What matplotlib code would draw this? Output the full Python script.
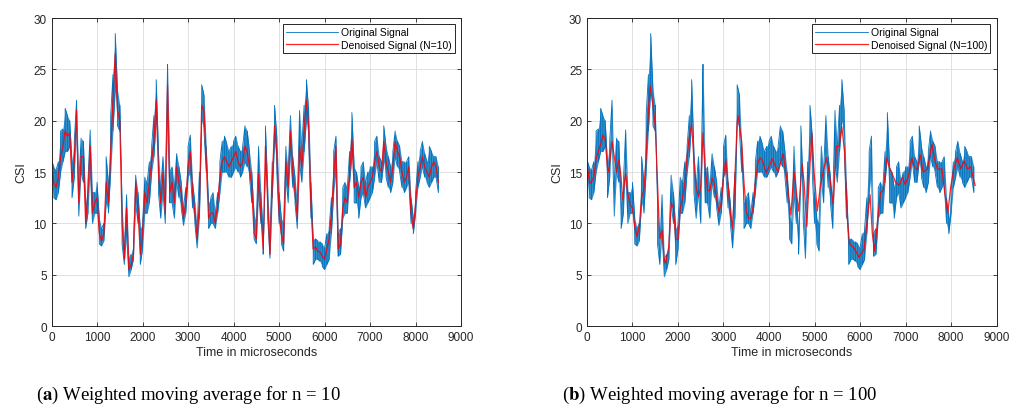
import numpy as np
import matplotlib
matplotlib.use("Agg")
import matplotlib.pyplot as plt

plt.rcParams['font.family'] = ['Liberation Sans', 'DejaVu Sans']
plt.rcParams['mathtext.fontset'] = 'stix'

# time grid of the original signal (microseconds), one value every 50
t_sig = np.arange(0, 8501, 50)

# original signal, lower and upper edge of the noisy band
sig_low = [14.5, 12.5, 12.3, 13.0, 15.0, 16.0, 17.0, 17.0, 17.5, 12.5,
           14.5, 19.5, 10.7, 15.0, 14.0, 9.5, 11.0, 15.5, 10.0, 11.0,
           11.0, 8.0, 7.8, 8.3, 12.0, 11.0, 15.0, 19.0, 23.0, 19.5,
           19.0, 8.0, 6.0, 9.0, 4.8, 5.5, 6.5, 12.0, 10.0, 6.0,
           7.5, 11.0, 11.0, 12.0, 15.0, 16.5, 20.0, 13.0, 10.5, 13.0,
           10.0, 21.0, 12.0, 12.0, 10.5, 14.0, 12.5, 11.5, 9.8, 11.0,
           14.5, 15.0, 11.5, 10.0, 7.6, 10.5, 20.0, 19.0, 15.0, 9.5,
           10.0, 10.0, 9.5, 11.0, 13.0, 15.0, 15.0, 15.0, 14.5, 14.5,
           15.0, 15.5, 15.0, 14.5, 15.0, 16.0, 15.5, 14.5, 12.0, 8.5,
           8.0, 13.0, 10.0, 7.0, 15.5, 10.5, 6.6, 12.5, 18.0, 15.0,
           10.0, 8.0, 7.3, 14.5, 12.0, 17.0, 13.5, 12.0, 9.5, 16.0,
           14.0, 17.0, 20.0, 18.0, 10.5, 6.0, 6.5, 6.5, 6.3, 5.8,
           5.5, 6.0, 6.5, 9.0, 13.0, 15.0, 6.8, 7.0, 10.5, 11.0,
           11.0, 14.0, 16.5, 12.0, 12.0, 10.5, 12.5, 13.0, 11.5, 12.0,
           12.5, 13.0, 14.5, 16.0, 14.0, 14.0, 16.0, 14.5, 13.5, 13.0,
           14.0, 16.5, 15.5, 15.0, 13.5, 13.0, 13.5, 14.0, 10.0, 9.0,
           11.0, 13.5, 14.5, 15.5, 14.5, 14.0, 13.5, 14.0, 14.5, 14.5,
           13.0]
sig_high = [16.2, 15.5, 15.2, 16.0, 19.0, 19.2, 21.2, 20.5, 20.0, 16.0,
            18.0, 22.0, 14.0, 18.3, 18.0, 12.0, 14.0, 19.1, 13.0, 13.0,
            14.0, 10.5, 9.5, 10.0, 16.5, 14.0, 20.5, 24.5, 28.5, 23.0,
            21.5, 12.0, 7.5, 12.8, 6.5, 7.0, 8.0, 14.7, 13.0, 9.5,
            10.0, 14.5, 14.0, 16.0, 17.5, 20.5, 24.0, 17.0, 13.5, 16.5,
            13.0, 25.5, 15.0, 15.5, 13.5, 16.8, 15.5, 14.0, 11.5, 13.5,
            17.5, 18.6, 14.0, 12.0, 9.5, 15.0, 23.5, 22.5, 17.5, 12.0,
            12.5, 13.0, 11.0, 13.0, 16.0, 18.0, 18.5, 17.8, 17.0, 17.5,
            18.0, 18.5, 17.5, 17.0, 17.5, 19.5, 19.0, 17.0, 15.0, 11.0,
            10.0, 17.5, 13.0, 9.0, 19.5, 13.5, 8.5, 16.0, 21.5, 18.5,
            13.0, 10.5, 10.0, 17.5, 15.0, 20.5, 16.5, 14.5, 12.0, 21.0,
            17.5, 21.5, 24.0, 21.0, 14.0, 8.5, 8.5, 8.3, 8.2, 8.0,
            7.6, 9.0, 9.5, 12.5, 17.0, 18.5, 9.0, 9.5, 13.5, 14.0,
            13.5, 17.0, 20.8, 15.5, 15.0, 13.5, 15.5, 16.0, 14.0, 15.0,
            15.5, 15.5, 18.0, 18.5, 16.5, 16.0, 19.5, 17.5, 16.5, 15.5,
            17.0, 19.0, 18.0, 17.5, 16.0, 16.0, 16.0, 16.5, 12.5, 10.5,
            13.0, 16.0, 17.0, 18.0, 16.8, 16.0, 17.5, 17.0, 16.5, 16.5,
            15.5]

# weighted moving average, N=10 (same time grid)
wma10 = [15.8, 14.0, 13.5, 14.5, 16.5, 17.5, 19.0, 18.5, 18.8, 14.0,
         16.0, 21.0, 12.0, 16.5, 16.5, 10.0, 13.0, 17.5, 11.0, 12.0,
         12.5, 9.0, 8.3, 9.0, 14.0, 12.0, 17.0, 22.0, 26.5, 21.0,
         20.0, 10.0, 6.5, 11.5, 5.5, 6.0, 7.0, 14.0, 11.5, 7.0,
         9.0, 13.0, 12.0, 14.0, 16.0, 18.0, 22.0, 15.0, 12.0, 15.0,
         11.0, 23.5, 13.0, 14.0, 12.0, 15.5, 14.0, 13.0, 10.5, 12.0,
         15.5, 17.0, 13.0, 11.0, 8.5, 12.0, 21.5, 21.0, 16.0, 10.5,
         11.0, 11.0, 10.0, 12.0, 14.5, 16.0, 16.5, 16.0, 15.5, 16.0,
         16.5, 17.0, 16.0, 15.5, 16.0, 17.5, 17.0, 15.5, 13.5, 9.0,
         8.5, 14.8, 11.0, 7.5, 17.5, 12.0, 7.0, 14.0, 19.5, 17.0,
         11.0, 9.0, 8.0, 16.0, 13.5, 19.0, 15.0, 13.0, 10.5, 17.5,
         15.5, 19.0, 22.0, 19.5, 12.0, 7.5, 7.7, 7.3, 7.2, 6.8,
         6.5, 7.5, 8.5, 11.0, 14.5, 17.5, 7.5, 8.0, 11.5, 12.5,
         12.0, 15.0, 18.2, 13.5, 14.0, 12.5, 14.0, 14.5, 12.5, 13.5,
         14.0, 14.5, 16.0, 17.0, 15.5, 15.0, 18.0, 16.0, 15.0, 14.0,
         15.5, 18.0, 17.0, 16.5, 15.0, 14.0, 14.5, 15.5, 11.0, 9.5,
         12.0, 14.5, 15.5, 16.5, 15.5, 15.0, 14.5, 15.5, 16.0, 15.5,
         14.0]

# weighted moving average, N=100
t100 = [0, 50, 80, 150, 200, 300, 350, 400, 450, 480, 550, 600, 650, 700, 750,
        780, 850, 900, 950, 1000, 1050, 1100, 1150, 1200, 1250, 1300, 1350,
        1390, 1450, 1500, 1550, 1600, 1650, 1700, 1730, 1800, 1850, 1900,
        1950, 2000, 2050, 2100, 2150, 2200, 2250, 2300, 2350, 2400, 2450,
        2500, 2550, 2600, 2650, 2700, 2750, 2800, 2850, 2900, 2950, 3000,
        3050, 3100, 3150, 3200, 3250, 3300, 3320, 3400, 3450, 3500, 3550,
        3600, 3650, 3700, 3750, 3800, 3850, 3940, 4070, 4200, 4310, 4400,
        4480, 4550, 4650, 4730, 4770, 4830, 4880, 4940, 4990, 5060, 5140,
        5260, 5320, 5410, 5480, 5540, 5600, 5660, 5720, 5770, 5870, 5980,
        6090, 6140, 6220, 6270, 6320, 6380, 6450, 6510, 6590, 6640, 6710,
        6780, 6860, 6930, 6990, 7060, 7140, 7190, 7260, 7320, 7390, 7480,
        7580, 7640, 7700, 7800, 7860, 7930, 7990, 8070, 8140, 8210, 8290,
        8360, 8430, 8530]
wma100 = [15.8, 14.2, 13.9, 14.5, 16.3, 17.7, 18.6, 18.2, 15.5, 15.0, 18.0,
          16.5, 15.0, 16.2, 14.5, 12.3, 14.9, 12.8, 11.8, 11.5, 9.7, 8.7, 9.8,
          12.5, 13.2, 16.5, 21.0, 23.4, 21.5, 19.5, 14.0, 8.5, 9.3, 6.4, 6.1,
          7.8, 12.0, 11.5, 8.5, 8.4, 11.5, 12.5, 13.8, 16.5, 18.5, 19.6, 16.2,
          13.5, 12.6, 13.5, 18.8, 15.3, 13.2, 13.2, 14.4, 13.8, 12.4, 11.1,
          12.0, 14.5, 16.2, 13.8, 11.0, 9.5, 14.5, 19.8, 20.5, 18.0, 14.0,
          11.2, 10.5, 10.5, 11.5, 14.0, 15.8, 16.4, 16.2, 14.9, 16.3, 15.0,
          16.8, 14.0, 10.8, 15.0, 11.2, 15.8, 14.0, 9.7, 14.0, 18.8, 15.0,
          11.2, 14.0, 16.4, 15.0, 11.9, 17.5, 17.5, 19.4, 17.0, 10.5, 8.0,
          7.6, 6.7, 7.5, 9.5, 12.8, 9.0, 7.3, 10.0, 13.0, 13.2, 16.4, 15.5,
          14.8, 14.0, 13.7, 14.5, 13.8, 14.5, 16.4, 15.5, 15.2, 16.7, 15.0,
          15.3, 17.7, 16.2, 15.3, 15.3, 13.0, 11.0, 13.5, 15.5, 16.4, 15.3,
          16.1, 15.3, 15.5, 13.7]

panels = [
    (wma10, t_sig, "Denoised Signal (N=10)", "Weighted moving average for n = 10", "a"),
    (wma100, t100, "Denoised Signal (N=100)", "Weighted moving average for n = 100", "b"),
]

blue = '#0072BD'
ink = '#262626'

# zig-zag between the band edges gives the spiky look of the raw signal
zig_t = np.repeat(t_sig, 2)
zig_v = np.column_stack([sig_low, sig_high]).ravel()
zig_v[2::4], zig_v[3::4] = zig_v[3::4].copy(), zig_v[2::4].copy()

fig = plt.figure(figsize=(10.24, 4.14), dpi=100)
lefts = [0.0503, 0.5732]
cap_x = [0.184, 0.703]

for i, (smooth, ts, lab, cap, letter) in enumerate(panels):
    ax = fig.add_axes([lefts[i], 0.210, 0.400, 0.744])
    ax.fill_between(t_sig, sig_low, sig_high, color=blue, lw=0, alpha=0.8)
    ax.plot(zig_t, zig_v, color=blue, lw=0.6, label="Original Signal")
    ax.plot(ts, smooth, color='#FF0000', lw=0.9, alpha=0.85, label=lab)
    ax.set_xlim(0, 9000)
    ax.set_ylim(0, 30)
    ax.set_xticks(np.arange(0, 9001, 1000))
    ax.set_yticks(np.arange(0, 31, 5))
    ax.grid(True, color='#dcdcdc', lw=0.6)
    ax.set_axisbelow(True)
    ax.tick_params(direction='in', top=True, right=True, labelsize=8.5,
                   colors=ink, length=3, width=0.6)
    for s in ax.spines.values():
        s.set_color(ink)
        s.set_linewidth(0.7)
    ax.set_xlabel("Time in microseconds", fontsize=9, color=ink, labelpad=2)
    ax.set_ylabel("CSI", fontsize=9, color=ink, labelpad=4)
    leg = ax.legend(loc='upper right', fontsize=7.5, fancybox=False,
                    framealpha=1, edgecolor=ink, borderpad=0.3,
                    handlelength=5.0, handletextpad=0.3, labelspacing=0.25,
                    borderaxespad=0.6)
    leg.get_frame().set_linewidth(0.7)
    fig.text(cap_x[i], 0.046, r"($\mathbf{" + letter + r"}$) " + cap,
             ha='center', va='center', fontsize=13.5,
             family=['Liberation Serif', 'DejaVu Serif'])

fig.savefig("out.png", dpi=100)
